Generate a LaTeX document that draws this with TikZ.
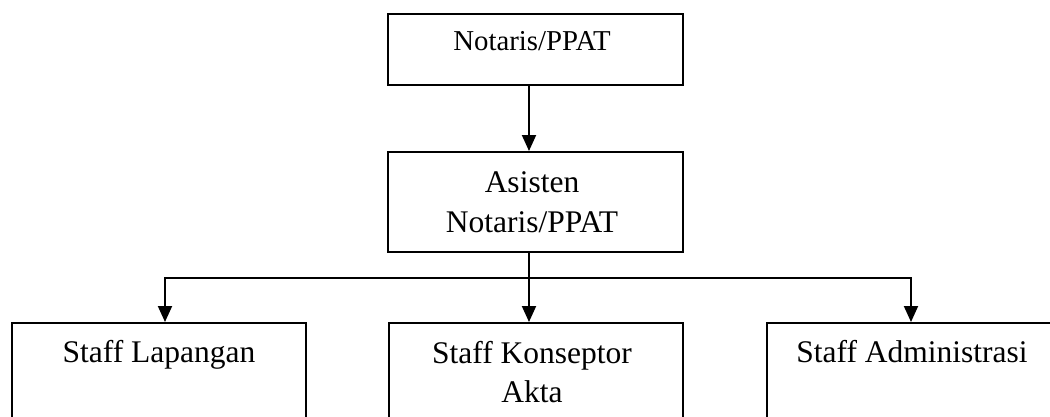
\documentclass[tikz,border=0pt]{standalone}
\usepackage{fontspec}
\setmainfont{Liberation Serif}
\usetikzlibrary{arrows.meta}
\tikzset{
  box/.style={draw=black, line width=1.6pt, rectangle, anchor=north west, inner sep=0pt},
  lbl/.style={anchor=base, inner sep=0pt, font=\fontsize{31.5}{39}\selectfont},
  toplbl/.style={anchor=base, inner sep=0pt, font=\fontsize{28.8}{36}\selectfont},
  conn/.style={draw=black, line width=1.9pt},
  arr/.style={conn, -{Triangle[width=14pt,length=16pt]}}
}
\begin{document}
\begin{tikzpicture}[x=1pt,y=-1pt]
\useasboundingbox (0,0) rectangle (1050,416);
\clip (0,0) rectangle (1050,416);
% boxes
\node[box, minimum width=295pt, minimum height=71pt] (top) at (387,13) {};
\node[box, minimum width=295pt, minimum height=100pt] (mid) at (387,151) {};
\node[box, minimum width=294pt, minimum height=120pt] (lft) at (11,322) {};
\node[box, minimum width=294pt, minimum height=120pt] (ctr) at (388,322) {};
\node[box, minimum width=294pt, minimum height=120pt] (rgt) at (766,322) {};
% labels
\node[toplbl] (ttop) at (532,50) {Notaris/PPAT};
\node[lbl] (tmid1) at (532,192) {Asisten};
\node[lbl] (tmid2) at (532,232) {Notaris/PPAT};
\node[lbl] (tlft) at (159,362) {Staff Lapangan};
\node[lbl] (tctr1) at (532,363) {Staff Konseptor};
\node[lbl] (tctr2) at (532,402) {Akta};
\node[lbl] (trgt) at (912,362) {Staff Administrasi};
% connectors
\coordinate (j) at (529,278);
\draw[arr] (top.south -| j) -- (mid.north -| j);
\draw[conn] (mid.south -| j) -- (j);
\draw[arr] (j) -- (ctr.north -| j);
\coordinate (jl) at (165,278);
\coordinate (jr) at (911,278);
\draw[arr] (j) -- (jl) -- (lft.north -| jl);
\draw[arr] (j) -- (jr) -- (rgt.north -| jr);
\end{tikzpicture}
\end{document}
